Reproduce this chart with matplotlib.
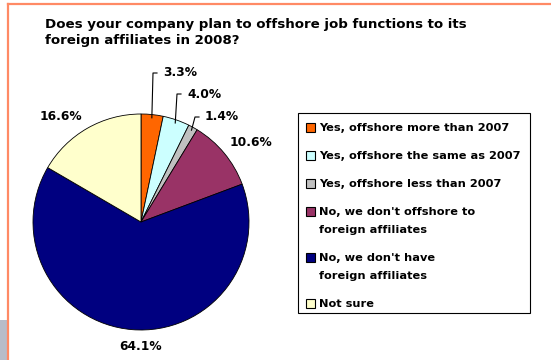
import matplotlib.pyplot as plt
import matplotlib.patches as mpatches
import numpy as np

plt.rcParams['font.family'] = ['DejaVu Sans']

labels = ["Yes, offshore more than 2007",
          "Yes, offshore the same as 2007",
          "Yes, offshore less than 2007",
          "No, we don't offshore to\nforeign affiliates",
          "No, we don't have\nforeign affiliates",
          "Not sure"]
values = [3.3, 4.0, 1.4, 10.6, 64.1, 16.6]
colors = ['#FF6600', '#CCFFFF', '#C0C0C0', '#993366', '#000080', '#FFFFCC']

W, H = 551, 360
fig = plt.figure(figsize=(W / 100, H / 100), dpi=100)


def fx(x):
    return x / W


def fy(y):
    return 1 - y / H


# orange frame (top and left edges only show) plus the grey tab at bottom left
fig.add_artist(plt.Line2D([fx(8), fx(8)], [0, fy(4)], color='#FF8A65', lw=1.6))
fig.add_artist(plt.Line2D([fx(8), 1], [fy(4), fy(4)], color='#FF8A65', lw=1.6))
fig.add_artist(mpatches.Rectangle((0, 0), fx(7), 40 / H, transform=fig.transFigure,
                                  color='#B8BCC8', lw=0))

fig.text(fx(45), fy(18), "Does your company plan to offshore job functions to its\nforeign affiliates in 2008?",
         ha='left', va='top', fontsize=9.6, fontweight='bold', linespacing=1.3)

# pie axes, center (141, 222) px, radius 108 px
cx, cy, r = 141, 222, 108
half = 110
ax = fig.add_axes([fx(cx - half), fy(cy + half), 2 * half / W, 2 * half / H])
wedges, _ = ax.pie(values, colors=colors, startangle=90, counterclock=False,
                   wedgeprops=dict(edgecolor='black', linewidth=0.6))
ax.set_xlim(-half / r, half / r)
ax.set_ylim(-half / r, half / r)
ax.set_aspect('equal')
ax.axis('off')


def px(x, y):
    return (x - cx) / r, (cy - y) / r


# percentage labels: (x px, y px, leader?) -- leader labels are left-aligned at x
label_pos = [(163, 73, True), (187, 94, True), (205, 117, True),
             (251, 142, False), (141, 346, False), (61, 117, False)]
cum = np.cumsum([0] + values)
for i, v in enumerate(values):
    tx, ty, lead = label_pos[i]
    txt = "%.1f%%" % v
    if lead:
        mid = np.deg2rad((cum[i] + cum[i + 1]) / 2 * 3.6)
        ex, ey = np.sin(mid) * 0.97, np.cos(mid) * 0.97
        kx, ky = px(tx - 10, ty)
        ax.plot([ex, kx, kx + 4 / r], [ey, ky, ky], color='black', lw=0.8, clip_on=False)
        ax.text(*px(tx, ty), txt, ha='left', va='center', fontsize=8.8, fontweight='bold')
    else:
        ax.text(*px(tx, ty), txt, ha='center', va='center', fontsize=8.8, fontweight='bold')

# legend box drawn by hand so the swatch sits on the first text line
fig.add_artist(mpatches.Rectangle((fx(298), fy(313)), 232 / W, 200 / H,
                                  transform=fig.transFigure, facecolor='white',
                                  edgecolor='black', lw=0.8))
y = 127
sq = 9
for lab, col in zip(labels, colors):
    fig.add_artist(mpatches.Rectangle((fx(306), fy(y + sq / 2)), sq / W, sq / H,
                                      transform=fig.transFigure, facecolor=col,
                                      edgecolor='black', lw=0.8))
    for k, line in enumerate(lab.split("\n")):
        fig.text(fx(319), fy(y + 18 * k), line, ha='left', va='center_baseline',
                 fontsize=8.2, fontweight='bold')
    y += 18 * len(lab.split("\n")) + 10

fig.savefig('out.png', dpi=100, facecolor='white')
